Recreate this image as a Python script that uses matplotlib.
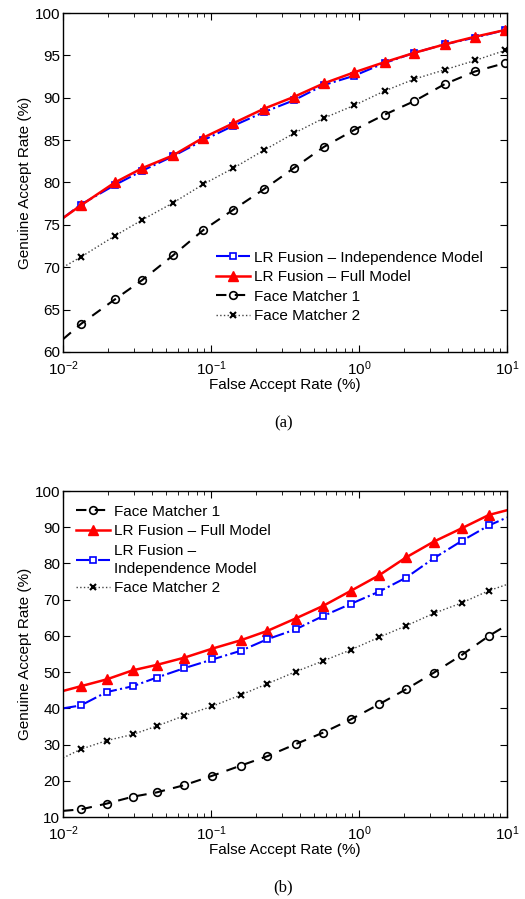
import matplotlib
matplotlib.use('Agg')
import matplotlib.pyplot as plt
from matplotlib.ticker import LogLocator, NullFormatter

plt.rcParams['font.family'] = ['Liberation Sans', 'DejaVu Sans']
plt.rcParams['mathtext.fontset'] = 'custom'
plt.rcParams['mathtext.rm'] = 'Liberation Sans'

# ---- panel (a) data ----
far_a = [0.01, 0.0132, 0.0224, 0.0344, 0.0554, 0.0889, 0.1418, 0.2274, 0.3627,
         0.5788, 0.928, 1.488, 2.362, 3.787, 6.07, 9.74]
full_a = [75.8, 77.3, 80.0, 81.7, 83.2, 85.3, 87.0, 88.7, 90.1, 91.7, 93.0, 94.2,
          95.3, 96.3, 97.2, 98.0]
indep_a = [75.8, 77.4, 79.7, 81.4, 83.1, 85.0, 86.7, 88.3, 89.7, 91.5, 92.6, 94.1,
           95.3, 96.3, 97.1, 98.0]
fm1_a = [61.5, 63.3, 66.2, 68.5, 71.4, 74.4, 76.8, 79.2, 81.7, 84.2, 86.2, 88.0,
         89.6, 91.6, 93.1, 94.1]
fm2_a = [70.0, 71.2, 73.7, 75.6, 77.6, 79.8, 81.7, 83.8, 85.8, 87.6, 89.1, 90.8,
         92.2, 93.3, 94.4, 95.6]

# ---- panel (b) data ----
far_b = [0.01, 0.01317, 0.01973, 0.02958, 0.043, 0.0661, 0.1023, 0.159, 0.2408,
         0.3724, 0.5728, 0.886, 1.362, 2.085, 3.19, 4.934, 7.55, 10.0]
full_b = [44.8, 46.1, 48.0, 50.5, 52.0, 54.0, 56.5, 58.8, 61.4, 64.8, 68.3, 72.5,
          76.7, 81.7, 86.0, 89.7, 93.4, 94.7]
indep_b = [40.0, 40.8, 44.5, 46.1, 48.5, 51.1, 53.5, 55.9, 59.1, 61.8, 65.5, 68.9,
           72.2, 76.1, 81.4, 86.2, 90.5, 92.7]
fm1_b = [11.7, 12.1, 13.7, 15.6, 16.8, 18.8, 21.4, 24.2, 26.8, 30.1, 33.3, 37.0,
         41.1, 45.3, 49.8, 54.7, 60.0, 63.0]
fm2_b = [26.3, 28.7, 31.1, 32.8, 35.1, 38.0, 40.6, 43.7, 46.8, 50.1, 53.1, 56.2,
         59.6, 62.8, 66.2, 69.1, 72.5, 74.2]

FS = 11


def style_axes(ax, ylim, yticks):
    ax.set_xscale('log')
    ax.set_xlim(0.01, 10)
    ax.set_ylim(*ylim)
    ax.set_yticks(yticks)
    ax.xaxis.set_major_locator(LogLocator(base=10, numticks=10))
    ax.xaxis.set_minor_locator(LogLocator(base=10, subs=range(2, 10), numticks=20))
    ax.xaxis.set_minor_formatter(NullFormatter())
    ax.tick_params(which='both', direction='in', top=True, right=True, labelsize=FS)
    ax.tick_params(which='major', length=5, width=0.8)
    ax.tick_params(which='minor', length=3, width=0.6)
    ax.tick_params(axis='x', pad=5)
    ax.tick_params(axis='y', pad=2)
    ax.set_xlabel('False Accept Rate (%)', fontsize=FS, labelpad=0)
    ax.set_ylabel('Genuine Accept Rate (%)', fontsize=FS, labelpad=2)
    for s in ax.spines.values():
        s.set_linewidth(1.0)


def draw(ax, far, vals, kind, label, mk):
    if kind == 'indep':
        ax.plot(far, vals, '-.', color='blue', lw=1.5, marker='s', ms=5,
                mfc='white', mec='blue', mew=1.2, markevery=mk, label=label)
    elif kind == 'full':
        ax.plot(far, vals, '-', color='red', lw=1.8, marker='^', ms=7,
                mfc='red', mec='red', markevery=mk, label=label)
    elif kind == 'fm1':
        ax.plot(far, vals, '--', color='black', lw=1.5, marker='o', ms=5.5,
                mfc='none', mec='black', mew=1.2, markevery=mk, label=label,
                dashes=(5, 4))
    else:
        ax.plot(far, vals, ':', color='#444444', lw=1.0, marker='x', ms=4,
                mec='black', mew=1.5, markevery=mk, label=label)


fig = plt.figure(figsize=(5.25, 8.99), dpi=100)

# panel (a)
ax1 = fig.add_axes([0.12, 0.6085, 0.8457, 0.377])
mk_a = list(range(1, len(far_a)))
draw(ax1, far_a, indep_a, 'indep', 'LR Fusion \u2013 Independence Model', mk_a)
draw(ax1, far_a, full_a, 'full', 'LR Fusion \u2013 Full Model', mk_a)
draw(ax1, far_a, fm1_a, 'fm1', 'Face Matcher 1', mk_a)
draw(ax1, far_a, fm2_a, 'fm2', 'Face Matcher 2', mk_a)
style_axes(ax1, (60, 100), range(60, 101, 5))
ax1.legend(loc='lower left', bbox_to_anchor=(0.345, 0.085), frameon=False,
           fontsize=FS, borderpad=0, borderaxespad=0, labelspacing=0.36,
           handlelength=2.2, handletextpad=0.25)
fig.text(0.54, 0.529, '(a)', ha='center', va='center', fontsize=12,
         family='Liberation Serif')

# panel (b)
ax2 = fig.add_axes([0.12, 0.0912, 0.8457, 0.3626])
mk_b = list(range(1, len(far_b) - 1))
draw(ax2, far_b, fm1_b, 'fm1', 'Face Matcher 1', mk_b)
draw(ax2, far_b, full_b, 'full', 'LR Fusion \u2013 Full Model', mk_b)
draw(ax2, far_b, indep_b, 'indep', 'LR Fusion \u2013\nIndependence Model', mk_b)
draw(ax2, far_b, fm2_b, 'fm2', 'Face Matcher 2', mk_b)
style_axes(ax2, (10, 100), range(10, 101, 10))
leg2 = ax2.legend(loc='upper left', bbox_to_anchor=(0.03, 0.958), frameon=False,
                  fontsize=FS, borderpad=0, borderaxespad=0, labelspacing=0.36,
                  handlelength=2.2, handletextpad=0.25)
for t in leg2.get_texts():
    t.set_linespacing(1.35)
fig.text(0.54, 0.013, '(b)', ha='center', va='center', fontsize=12,
         family='Liberation Serif')

fig.savefig('out.png', dpi=100)
